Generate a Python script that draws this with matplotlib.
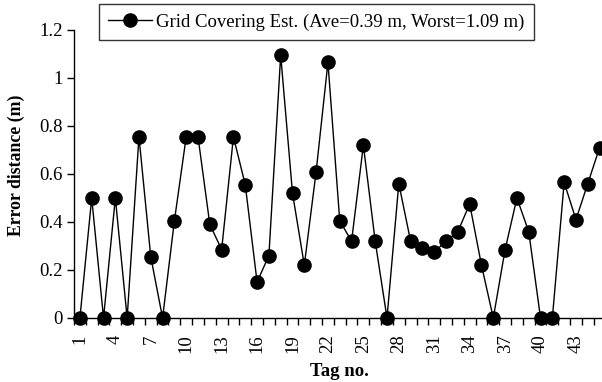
import numpy as np
from matplotlib import pyplot as plt

plt.rcParams['font.family'] = ['Liberation Serif', 'DejaVu Serif']

# Tag numbers and error distance (m)
tags = np.arange(1, 46)
errors = [0, 0.5, 0, 0.5, 0, 0.755, 0.255, 0, 0.405, 0.755,
          0.755, 0.39, 0.285, 0.755, 0.555, 0.15, 0.26, 1.095, 0.52, 0.22,
          0.61, 1.065, 0.405, 0.32, 0.72, 0.32, 0, 0.56, 0.32, 0.29,
          0.275, 0.32, 0.36, 0.475, 0.22, 0, 0.285, 0.5, 0.36, 0,
          0, 0.565, 0.41, 0.56, 0.71]
yticks = [0, 0.2, 0.4, 0.6, 0.8, 1, 1.2]
ytick_labels = ["0", "0.2", "0.4", "0.6", "0.8", "1", "1.2"]
xtick_tags = list(range(1, 46, 3))
label = "Grid Covering Est. (Ave=0.39 m, Worst=1.09 m)"

fig = plt.figure(figsize=(6.02, 3.82), dpi=100)
ax = fig.add_axes([74 / 602, 1 - 318 / 382, 531.5 / 602, 288 / 382])

ax.plot(tags, errors, color="black", linewidth=1.0, marker="o",
        markersize=9.5, markerfacecolor="black", markeredgecolor="black",
        label=label, clip_on=False, zorder=3)

ax.set_xlim(0.5, 45.5)
ax.set_ylim(0, 1.2)
ax.set_yticks(yticks)
ax.set_yticklabels(ytick_labels, fontsize=13.5)

# ticks between categories, labels on every third tag
ax.set_xticks(np.arange(0.5, 46, 1))
ax.set_xticklabels([])
ax.set_xticks(xtick_tags, minor=True)
ax.set_xticklabels([str(t) for t in xtick_tags], minor=True, rotation=90, fontsize=13.5)
ax.tick_params(axis="x", which="minor", length=0, pad=12)
ax.tick_params(axis="x", which="major", direction="out", length=5, width=1)
ax.tick_params(axis="y", direction="out", length=5, width=1, pad=3)

for s in ["top", "right"]:
    ax.spines[s].set_visible(False)
for s in ["left", "bottom"]:
    ax.spines[s].set_linewidth(1.0)

ax.set_ylabel("Error distance (m)", fontsize=12.8, fontweight="bold", labelpad=10)
ax.yaxis.label.set_y(0.53)
ax.set_xlabel("Tag no.", fontsize=13.5, fontweight="bold", labelpad=7)

leg = fig.legend(loc="upper left", bbox_to_anchor=(99 / 602, 1 - 4 / 382),
                 fontsize=13.5, frameon=True, fancybox=False, edgecolor="black",
                 handlelength=2.3, borderpad=0.5, handletextpad=0.25,
                 borderaxespad=0)
leg.get_frame().set_linewidth(1.0)

fig.savefig("out.png", dpi=100)
